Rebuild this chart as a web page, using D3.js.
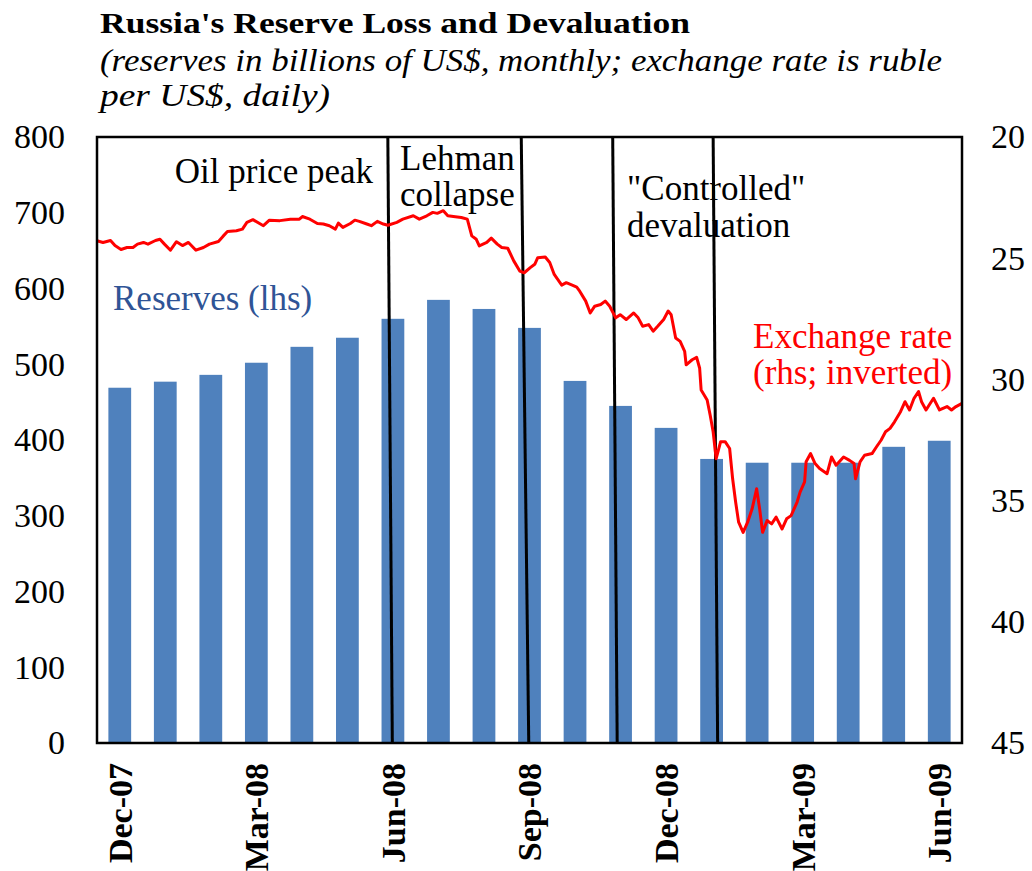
<!DOCTYPE html>
<html>
<head>
<meta charset="utf-8">
<script src="https://cdn.jsdelivr.net/npm/d3@7"></script>
<style>
  body { margin: 0; background: #fff; }
  svg { display: block; font-family: "Liberation Serif", "Times New Roman", serif; }
</style>
</head>
<body>
<svg width="1032" height="871"></svg>
<script>
// Monthly reserves (billions of US$)
var months = ["Dec-07", "Jan-08", "Feb-08", "Mar-08", "Apr-08", "May-08", "Jun-08", "Jul-08", "Aug-08", "Sep-08",
              "Oct-08", "Nov-08", "Dec-08", "Jan-09", "Feb-09", "Mar-09", "Apr-09", "May-09", "Jun-09"];
var reserves = [469, 477, 486, 502, 523, 535, 560, 585, 573, 548,
                478, 445, 416, 375, 370, 370, 370, 391, 399];
var xTickLabels = ["Dec-07", "Mar-08", "Jun-08", "Sep-08", "Dec-08", "Mar-09", "Jun-09"];

var leftTicks = [0, 100, 200, 300, 400, 500, 600, 700, 800];
var rightTicks = [20, 25, 30, 35, 40, 45];

// Exchange rate, ruble per US$
var exchangeRate = [
  ["2007-12-01", 24.28], ["2007-12-05", 24.35], ["2007-12-10", 24.27], ["2007-12-13", 24.48], ["2007-12-17", 24.64],
  ["2007-12-21", 24.56], ["2007-12-25", 24.56], ["2007-12-28", 24.42], ["2008-01-01", 24.35], ["2008-01-04", 24.42],
  ["2008-01-09", 24.27], ["2008-01-12", 24.22], ["2008-01-15", 24.42], ["2008-01-19", 24.67], ["2008-01-23", 24.32],
  ["2008-01-27", 24.48], ["2008-01-31", 24.35], ["2008-02-05", 24.67], ["2008-02-10", 24.56], ["2008-02-14", 24.42],
  ["2008-02-20", 24.31], ["2008-02-23", 24.10], ["2008-02-26", 23.90], ["2008-03-03", 23.87], ["2008-03-07", 23.80],
  ["2008-03-10", 23.52], ["2008-03-14", 23.41], ["2008-03-19", 23.59], ["2008-03-21", 23.66], ["2008-03-25", 23.43],
  ["2008-04-01", 23.45], ["2008-04-08", 23.39], ["2008-04-14", 23.39], ["2008-04-16", 23.28], ["2008-04-21", 23.39],
  ["2008-04-26", 23.57], ["2008-04-30", 23.59], ["2008-05-04", 23.66], ["2008-05-08", 23.80], ["2008-05-10", 23.55],
  ["2008-05-13", 23.73], ["2008-05-18", 23.57], ["2008-05-21", 23.43], ["2008-05-24", 23.48], ["2008-05-29", 23.59],
  ["2008-06-01", 23.66], ["2008-06-05", 23.48], ["2008-06-09", 23.59], ["2008-06-12", 23.64], ["2008-06-18", 23.52],
  ["2008-06-22", 23.39], ["2008-06-29", 23.25], ["2008-07-03", 23.39], ["2008-07-08", 23.25], ["2008-07-12", 23.11],
  ["2008-07-15", 23.15], ["2008-07-19", 23.04], ["2008-07-22", 23.25], ["2008-07-27", 23.29], ["2008-07-31", 23.32],
  ["2008-08-04", 23.39], ["2008-08-07", 24.08], ["2008-08-10", 24.22], ["2008-08-12", 24.49], ["2008-08-17", 24.35],
  ["2008-08-20", 24.17], ["2008-08-24", 24.42], ["2008-08-27", 24.56], ["2008-08-31", 24.59], ["2008-09-04", 25.11],
  ["2008-09-08", 25.53], ["2008-09-11", 25.60], ["2008-09-15", 25.39], ["2008-09-18", 25.25], ["2008-09-20", 24.98],
  ["2008-09-25", 24.95], ["2008-09-28", 25.18], ["2008-10-01", 25.67], ["2008-10-06", 26.11], ["2008-10-09", 26.01],
  ["2008-10-13", 26.11], ["2008-10-16", 26.19], ["2008-10-18", 26.36], ["2008-10-22", 26.77], ["2008-10-25", 27.26],
  ["2008-10-28", 26.98], ["2008-11-01", 26.91], ["2008-11-04", 26.77], ["2008-11-07", 26.98], ["2008-11-11", 27.46],
  ["2008-11-14", 27.33], ["2008-11-18", 27.53], ["2008-11-23", 27.26], ["2008-11-26", 27.46], ["2008-11-29", 27.81],
  ["2008-12-03", 27.74], ["2008-12-06", 28.01], ["2008-12-09", 27.81], ["2008-12-13", 27.53], ["2008-12-16", 27.18],
  ["2008-12-18", 27.33], ["2008-12-21", 28.29], ["2008-12-24", 28.43], ["2008-12-27", 28.84], ["2008-12-28", 29.40],
  ["2009-01-01", 29.19], ["2009-01-04", 29.09], ["2009-01-06", 29.54], ["2009-01-07", 30.44], ["2009-01-11", 30.85],
  ["2009-01-13", 31.47], ["2009-01-15", 32.16], ["2009-01-17", 33.27], ["2009-01-20", 32.57], ["2009-01-23", 32.57],
  ["2009-01-26", 32.85], ["2009-01-28", 34.10], ["2009-01-30", 35.06], ["2009-02-01", 35.89], ["2009-02-04", 36.31],
  ["2009-02-07", 35.89], ["2009-02-10", 35.34], ["2009-02-13", 34.51], ["2009-02-15", 35.34], ["2009-02-17", 36.31],
  ["2009-02-20", 35.82], ["2009-02-23", 35.96], ["2009-02-26", 35.68], ["2009-03-02", 36.17], ["2009-03-05", 35.75],
  ["2009-03-08", 35.62], ["2009-03-12", 35.06], ["2009-03-14", 34.65], ["2009-03-17", 34.23], ["2009-03-18", 33.40],
  ["2009-03-21", 33.06], ["2009-03-24", 33.47], ["2009-03-27", 33.68], ["2009-04-01", 33.89], ["2009-04-04", 33.20],
  ["2009-04-07", 33.54], ["2009-04-12", 33.20], ["2009-04-16", 33.34], ["2009-04-19", 33.47], ["2009-04-20", 34.10],
  ["2009-04-23", 33.40], ["2009-04-26", 33.13], ["2009-05-01", 33.06], ["2009-05-04", 32.78], ["2009-05-07", 32.51],
  ["2009-05-10", 32.16], ["2009-05-13", 32.02], ["2009-05-16", 31.75], ["2009-05-20", 31.33], ["2009-05-23", 30.92],
  ["2009-05-26", 31.26], ["2009-05-29", 30.78], ["2009-06-01", 30.50], ["2009-06-03", 30.92], ["2009-06-06", 31.26],
  ["2009-06-11", 30.78], ["2009-06-15", 31.26], ["2009-06-20", 31.12], ["2009-06-23", 31.26], ["2009-06-26", 31.12],
  ["2009-06-30", 30.99]
];

// Event markers (date at top of plot, date at bottom - lines lean a little)
var eventTop = ["2008-06-12", "2008-09-09", "2008-11-09", "2009-01-15"];
var eventBottom = ["2008-06-15", "2008-09-14", "2008-11-12", "2009-01-18"];

var parseDate = d3.utcParse("%Y-%m-%d");

var svg = d3.select("svg"),
    margin = {top: 137, right: 70, bottom: 128, left: 97},
    width = +svg.attr("width") - margin.left - margin.right,
    height = +svg.attr("height") - margin.top - margin.bottom,
    g = svg.append("g").attr("transform", "translate(" + margin.left + "," + margin.top + ")");

// Scales
var x = d3.scaleBand()
    .domain(months)
    .range([0, width])
    .paddingInner(0.5)
    .paddingOuter(0.25);

var xTime = d3.scaleUtc()
    .domain([parseDate("2007-12-01"), parseDate("2009-06-30")])
    .range([0, width]);

var yLeft = d3.scaleLinear().domain([0, 800]).range([height, 0]);
var yRight = d3.scaleLinear().domain([20, 45]).range([0, height]);   // inverted

// Title
svg.append("text")
    .attr("x", 100).attr("y", 33)
    .attr("font-size", 30).attr("font-weight", "bold")
    .attr("textLength", 590).attr("lengthAdjust", "spacingAndGlyphs")
    .text("Russia's Reserve Loss and Devaluation");

svg.append("text")
    .attr("x", 100).attr("y", 71)
    .attr("font-size", 31).attr("font-style", "italic")
    .attr("textLength", 842).attr("lengthAdjust", "spacingAndGlyphs")
    .text("(reserves in billions of US$, monthly; exchange rate is ruble");

svg.append("text")
    .attr("x", 100).attr("y", 106)
    .attr("font-size", 31).attr("font-style", "italic")
    .attr("textLength", 230).attr("lengthAdjust", "spacingAndGlyphs")
    .text("per US$, daily)");

// Bars
g.selectAll(".bar")
    .data(reserves)
  .enter().append("rect")
    .attr("class", "bar")
    .attr("x", function(d, i) { return x(months[i]); })
    .attr("width", x.bandwidth())
    .attr("y", function(d) { return yLeft(d); })
    .attr("height", function(d) { return height - yLeft(d); })
    .attr("fill", "#4F81BD");

// Event lines
g.selectAll(".event")
    .data(eventTop)
  .enter().append("line")
    .attr("class", "event")
    .attr("x1", function(d) { return xTime(parseDate(d)); })
    .attr("y1", 0)
    .attr("x2", function(d, i) { return xTime(parseDate(eventBottom[i])); })
    .attr("y2", height)
    .attr("stroke", "#000")
    .attr("stroke-width", 3);

// Exchange rate line
var line = d3.line()
    .x(function(d) { return xTime(parseDate(d[0])); })
    .y(function(d) { return yRight(d[1]); });

g.append("path")
    .datum(exchangeRate)
    .attr("fill", "none")
    .attr("stroke", "#FF0000")
    .attr("stroke-width", 3)
    .attr("stroke-linejoin", "round")
    .attr("d", line);

// Frame
g.append("rect")
    .attr("width", width)
    .attr("height", height)
    .attr("fill", "none")
    .attr("stroke", "#000")
    .attr("stroke-width", 2.5);

// Left axis
var leftAxis = g.append("g")
    .call(d3.axisLeft(yLeft).tickValues(leftTicks).tickSize(0).tickPadding(32));
leftAxis.select(".domain").remove();
leftAxis.selectAll("text")
    .attr("font-family", "Liberation Serif, Times New Roman, serif")
    .attr("font-size", 34)
    .attr("fill", "#000");

// Right axis
var rightAxis = g.append("g")
    .attr("transform", "translate(" + width + ",0)")
    .call(d3.axisRight(yRight).tickValues(rightTicks).tickSize(0).tickPadding(29));
rightAxis.select(".domain").remove();
rightAxis.selectAll("text")
    .attr("font-family", "Liberation Serif, Times New Roman, serif")
    .attr("font-size", 34)
    .attr("fill", "#000");

// Bottom axis (rotated labels, every third month)
var bottomAxis = g.append("g")
    .attr("transform", "translate(0," + height + ")")
    .call(d3.axisBottom(x).tickValues(xTickLabels).tickSize(0));
bottomAxis.select(".domain").remove();
bottomAxis.selectAll("text")
    .attr("font-family", "Liberation Serif, Times New Roman, serif")
    .attr("font-size", 34)
    .attr("font-weight", "bold")
    .attr("fill", "#000")
    .attr("text-anchor", "end")
    .attr("transform", "rotate(-90)")
    .attr("x", -20)
    .attr("y", 0)
    .attr("dy", "0.35em");

// Annotations
var notes = svg.append("g").attr("font-size", 35);

notes.append("text").attr("x", 373).attr("y", 183).attr("text-anchor", "end").text("Oil price peak");
notes.append("text").attr("x", 400).attr("y", 170).text("Lehman");
notes.append("text").attr("x", 400).attr("y", 206).text("collapse");
notes.append("text").attr("x", 627).attr("y", 200).text("\"Controlled\"");
notes.append("text").attr("x", 627).attr("y", 237).text("devaluation");

notes.append("text").attr("x", 113).attr("y", 310)
    .attr("fill", "#2F5496").text("Reserves (lhs)");
notes.append("text").attr("x", 753).attr("y", 348)
    .attr("fill", "#FF0000").text("Exchange rate");
notes.append("text").attr("x", 753).attr("y", 384)
    .attr("fill", "#FF0000").text("(rhs; inverted)");
</script>
</body>
</html>
